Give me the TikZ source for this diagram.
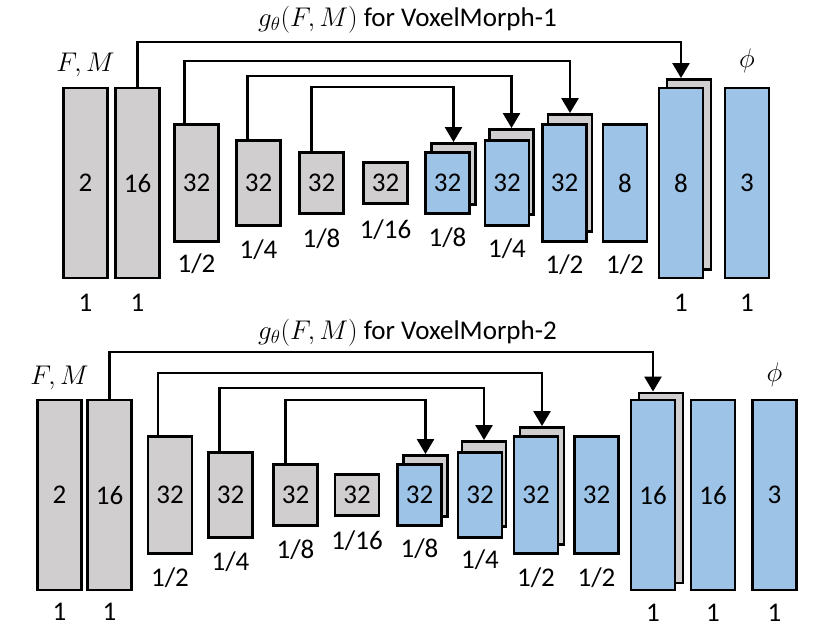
\RequirePackage{fix-cm}
\documentclass[tikz,border=0pt]{standalone}
\usepackage{fontspec}
\setmainfont{Carlito}
\usetikzlibrary{positioning,arrows.meta}
\definecolor{encgray}{RGB}{208,206,206}
\definecolor{decblue}{RGB}{157,195,230}
\begin{document}
\begin{tikzpicture}[x=1pt,y=-1pt,
  every node/.style={font=\fontsize{27}{32}\selectfont},
  enc/.style={draw=black, line width=2.9pt, fill=encgray, inner sep=0pt, minimum width=44pt},
  dec/.style={enc, fill=decblue},
  big/.style={minimum height=190pt},
  half/.style={minimum height=117pt},
  quarter/.style={minimum height=85pt},
  eighth/.style={minimum height=61pt},
  sixteenth/.style={minimum height=41pt},
  lbl/.style={inner sep=0pt},
  skipline/.style={line width=2.6pt, -{Triangle[width=17pt,length=15pt]}}]
  \useasboundingbox (0,0) rectangle (830,638);

  % VoxelMorph-1
  \node[lbl, anchor=base west] (title1) at (258,26) {$g_\theta(F,M)$ for VoxelMorph-1};
  \node[enc, big] (t1) at (85.5,183) {2};
  \node[enc, big] (t2) at (137.5,183) {16};
  \node[enc, half] (t3) at (196.5,183) {32};
  \node[enc, quarter] (t4) at (258.5,183) {32};
  \node[enc, eighth] (t5) at (321.5,183) {32};
  \node[enc, sixteenth] (t6) at (385.5,183) {32};
  \node[enc, eighth] (t7b) at (453.5,174) {};
  \node[dec, eighth] (t7) at (447.5,183) {32};
  \node[enc, quarter] (t8b) at (511.5,172) {};
  \node[dec, quarter] (t8) at (507,183) {32};
  \node[enc, half] (t9b) at (570,173) {};
  \node[dec, half] (t9) at (564.5,183) {32};
  \node[dec, half] (t10) at (625,183) {8};
  \node[enc, big] (t11b) at (689,174.5) {};
  \node[dec, big] (t11) at (681,183) {8};
  \node[dec, big] (t12) at (747,183) {3};

  \node[lbl, above=10pt of t1] (fm1) {$F,M$};
  \node[lbl, above=14pt of t12] (phi1) {$\phi$};

  \node[lbl, below=14pt of t1] (l1) {1};
  \node[lbl, below=14pt of t2] (l2) {1};
  \node[lbl, below=11pt of t3] (l3) {1/2};
  \node[lbl, below=13pt of t4] (l4) {1/4};
  \node[lbl, below=14pt of t5] (l5) {1/8};
  \node[lbl, below=15pt of t6] (l6) {1/16};
  \node[lbl, below=13pt of t7] (l7) {1/8};
  \node[lbl, below=12pt of t8] (l8) {1/4};
  \node[lbl, below=12pt of t9] (l9) {1/2};
  \node[lbl, below=12pt of t10] (l10) {1/2};
  \node[lbl, below=14pt of t11] (l11) {1};
  \node[lbl, below=14pt of t12] (l12) {1};

  \coordinate (s1) at (0,42);
  \coordinate (s2) at (0,61);
  \coordinate (s3) at (0,76);
  \coordinate (s4) at (0,87);
  \draw[skipline] (t2.north) -- (t2.north |- s1) -| (t11b.north -| t11.north);
  \draw[skipline] ([xshift=-12pt]t3.north) -- ([xshift=-12pt]t3.north |- s2) -| (t9b.north);
  \draw[skipline] ([xshift=-11pt]t4.north) -- ([xshift=-11pt]t4.north |- s3) -| (t8b.north);
  \draw[skipline] ([xshift=-10pt]t5.north) -- ([xshift=-10pt]t5.north |- s4) -| (t7b.north);

  % VoxelMorph-2
  \node[lbl, anchor=base west] (title2) at (258,339) {$g_\theta(F,M)$ for VoxelMorph-2};
  \node[enc, big] (b1) at (59.5,495) {2};
  \node[enc, big] (b2) at (109.5,495) {16};
  \node[enc, half] (b3) at (170,495) {32};
  \node[enc, quarter] (b4) at (230.5,495) {32};
  \node[enc, eighth] (b5) at (295.5,495) {32};
  \node[enc, sixteenth] (b6) at (357,495) {32};
  \node[enc, eighth] (b7b) at (425.5,486) {};
  \node[dec, eighth] (b7) at (419.5,495) {32};
  \node[enc, quarter] (b8b) at (484,484) {};
  \node[dec, quarter] (b8) at (480,495) {32};
  \node[enc, half] (b9b) at (542,486) {};
  \node[dec, half] (b9) at (536,495) {32};
  \node[dec, half] (b10) at (596.5,495) {32};
  \node[enc, big] (b11b) at (661,488) {};
  \node[dec, big] (b11) at (653,495) {16};
  \node[dec, big] (b12) at (713,495) {16};
  \node[dec, big] (b13) at (774.5,495) {3};

  \node[lbl, above=9pt of b1] (fm2) {$F,M$};
  \node[lbl, above=12pt of b13] (phi2) {$\phi$};

  \node[lbl, below=11pt of b1] (m1) {1};
  \node[lbl, below=11pt of b2] (m2) {1};
  \node[lbl, below=13pt of b3] (m3) {1/2};
  \node[lbl, below=13pt of b4] (m4) {1/4};
  \node[lbl, below=13pt of b5] (m5) {1/8};
  \node[lbl, below=14pt of b6] (m6) {1/16};
  \node[lbl, below=12pt of b7] (m7) {1/8};
  \node[lbl, below=11pt of b8] (m8) {1/4};
  \node[lbl, below=13pt of b9] (m9) {1/2};
  \node[lbl, below=13pt of b10] (m10) {1/2};
  \node[lbl, below=12pt of b11] (m11) {1};
  \node[lbl, below=12pt of b12] (m12) {1};
  \node[lbl, below=12pt of b13] (m13) {1};

  \coordinate (r1) at (0,352);
  \coordinate (r2) at (0,373);
  \coordinate (r3) at (0,388);
  \coordinate (r4) at (0,400);
  \draw[skipline] (b2.north) -- (b2.north |- r1) -| (b11b.north -| b11.north);
  \draw[skipline] ([xshift=-12pt]b3.north) -- ([xshift=-12pt]b3.north |- r2) -| (b9b.north);
  \draw[skipline] ([xshift=-11pt]b4.north) -- ([xshift=-11pt]b4.north |- r3) -| (b8b.north);
  \draw[skipline] ([xshift=-10pt]b5.north) -- ([xshift=-10pt]b5.north |- r4) -| (b7b.north);
\end{tikzpicture}
\end{document}
